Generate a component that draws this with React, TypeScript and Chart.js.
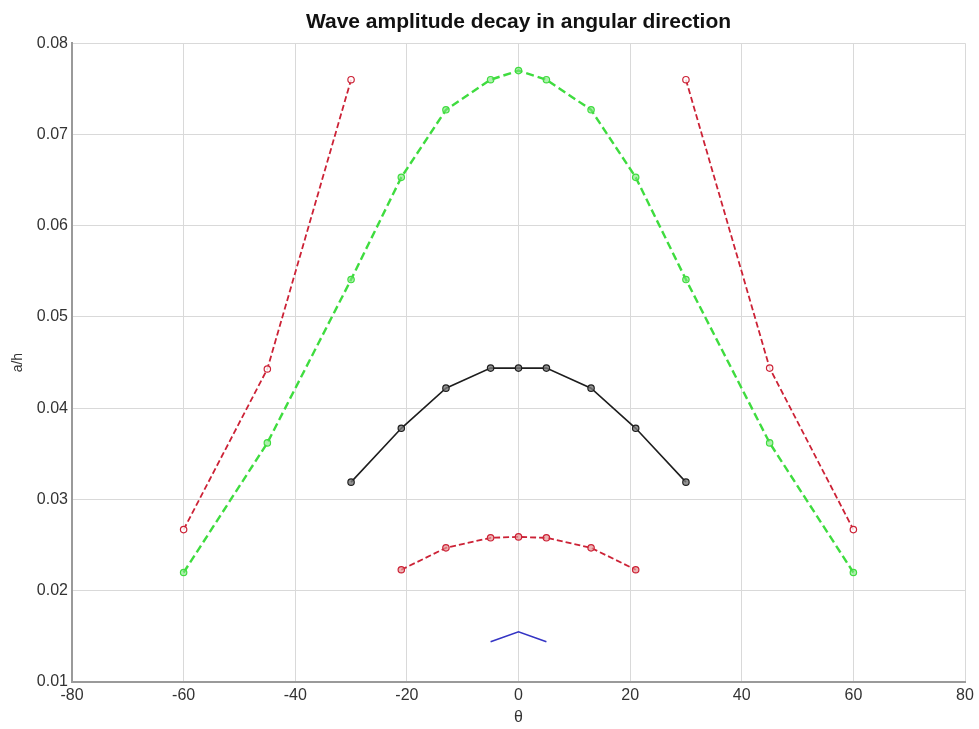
import { useEffect, useRef } from "react";
import { Chart, registerables } from "chart.js";

Chart.register(...registerables);

// Outer (red dashed) branches
const thetaOuterLeft = [-60, -45, -30];
const ahOuterLeft = [0.0267, 0.0443, 0.076];
const thetaOuterRight = [30, 45, 60];
const ahOuterRight = [0.076, 0.0444, 0.0267];

// Green dashed envelope
const thetaGreen = [-60, -45, -30, -21, -13, -5, 0, 5, 13, 21, 30, 45, 60];
const ahGreen = [0.022, 0.0362, 0.0541, 0.0653, 0.0727, 0.076, 0.077, 0.076, 0.0727, 0.0653, 0.0541, 0.0362, 0.022];

// Black solid curve
const thetaBlack = [-30, -21, -13, -5, 0, 5, 13, 21, 30];
const ahBlack = [0.0319, 0.0378, 0.0422, 0.0444, 0.0444, 0.0444, 0.0422, 0.0378, 0.0319];

// Inner red dashed curve
const thetaInner = [-21, -13, -5, 0, 5, 13, 21];
const ahInner = [0.0223, 0.0247, 0.0258, 0.0259, 0.0258, 0.0247, 0.0223];

// Blue solid curve
const thetaBlue = [-5, 0, 5];
const ahBlue = [0.0144, 0.0155, 0.0144];

const X_MIN = -80;
const X_MAX = 80;
const X_STEP = 20;
const Y_MIN = 0.01;
const Y_MAX = 0.08;
const Y_STEP = 0.01;

const TITLE = "Wave amplitude decay in angular direction";
const X_LABEL = "θ";
const Y_LABEL = "a/h";

const FONT = "'Liberation Sans', Arial, Helvetica, sans-serif";

const pts = (xs: number[], ys: number[]) => xs.map((x, i) => ({ x, y: ys[i] }));

export default function App() {
  const canvasRef = useRef<HTMLCanvasElement | null>(null);

  useEffect(() => {
    if (!canvasRef.current) return;
    const red = "#cc2236";
    const green = "#3fdc3f";
    const black = "#1e1e1e";
    const blue = "#3434c4";

    const chart = new Chart(canvasRef.current, {
      type: "line",
      data: {
        datasets: [
          {
            data: pts(thetaOuterLeft, ahOuterLeft),
            borderColor: red,
            borderWidth: 1.8,
            borderDash: [6, 3],
            pointRadius: 3.2,
            pointBorderWidth: 1.2,
            pointBorderColor: red,
            pointBackgroundColor: "rgba(255,255,255,0.8)",
          },
          {
            data: pts(thetaOuterRight, ahOuterRight),
            borderColor: red,
            borderWidth: 1.8,
            borderDash: [6, 3],
            pointRadius: 3.2,
            pointBorderWidth: 1.2,
            pointBorderColor: red,
            pointBackgroundColor: "rgba(255,255,255,0.8)",
          },
          {
            data: pts(thetaGreen, ahGreen),
            borderColor: green,
            borderWidth: 2.4,
            borderDash: [8, 4],
            pointRadius: 3.2,
            pointBorderWidth: 1.2,
            pointBorderColor: green,
            pointBackgroundColor: "rgba(120,230,120,0.6)",
          },
          {
            data: pts(thetaBlack, ahBlack),
            borderColor: black,
            borderWidth: 1.6,
            pointRadius: 3.2,
            pointBorderWidth: 1.2,
            pointBorderColor: black,
            pointBackgroundColor: "rgba(120,120,120,0.8)",
          },
          {
            data: pts(thetaInner, ahInner),
            borderColor: red,
            borderWidth: 1.8,
            borderDash: [6, 3],
            pointRadius: 3.2,
            pointBorderWidth: 1.2,
            pointBorderColor: red,
            pointBackgroundColor: "rgba(230,150,150,0.7)",
          },
          {
            data: pts(thetaBlue, ahBlue),
            borderColor: blue,
            borderWidth: 1.6,
            pointRadius: 0,
          },
        ],
      },
      options: {
        animation: false,
        responsive: true,
        maintainAspectRatio: false,
        layout: { padding: { top: 0, right: 14, bottom: 0, left: 0 } },
        plugins: {
          legend: { display: false },
          tooltip: { enabled: false },
          title: {
            display: true,
            text: TITLE,
            fullSize: false,
            color: "#111",
            font: { family: FONT, size: 21, weight: "bold" },
            padding: { top: 10, bottom: 8 },
          },
        },
        scales: {
          x: {
            type: "linear",
            min: X_MIN,
            max: X_MAX,
            afterFit: (s: any) => {
              s.height = 47;
            },
            ticks: {
              stepSize: X_STEP,
              color: "#333",
              padding: 4,
              maxRotation: 0,
              autoSkip: false,
              font: { family: FONT, size: 16 },
              callback: (v: any) => String(v),
            },
            grid: { color: "#d9d9d9", lineWidth: 1, drawTicks: false },
            border: { color: "#9a9a9a", width: 2 },
            title: {
              display: true,
              text: X_LABEL,
              color: "#333",
              font: { family: FONT, size: 16 },
              padding: { top: 2, bottom: 2 },
            },
          },
          y: {
            type: "linear",
            min: Y_MIN,
            max: Y_MAX,
            afterFit: (s: any) => {
              s.width = 72;
            },
            ticks: {
              stepSize: Y_STEP,
              color: "#333",
              padding: 4,
              autoSkip: false,
              font: { family: FONT, size: 16 },
              callback: (v: any) => Number(v).toFixed(2),
            },
            grid: { color: "#d9d9d9", lineWidth: 1, drawTicks: false },
            border: { color: "#9a9a9a", width: 2 },
            title: {
              display: true,
              text: Y_LABEL,
              color: "#333",
              font: { family: FONT, size: 14 },
              padding: { top: 10, bottom: 0 },
            },
          },
        },
      },
    });
    return () => chart.destroy();
  }, []);

  return (
    <div
      style={{
        position: "absolute",
        left: 0,
        top: 0,
        width: 979,
        height: 729,
        background: "#fff",
      }}
    >
      <canvas ref={canvasRef} />
    </div>
  );
}
